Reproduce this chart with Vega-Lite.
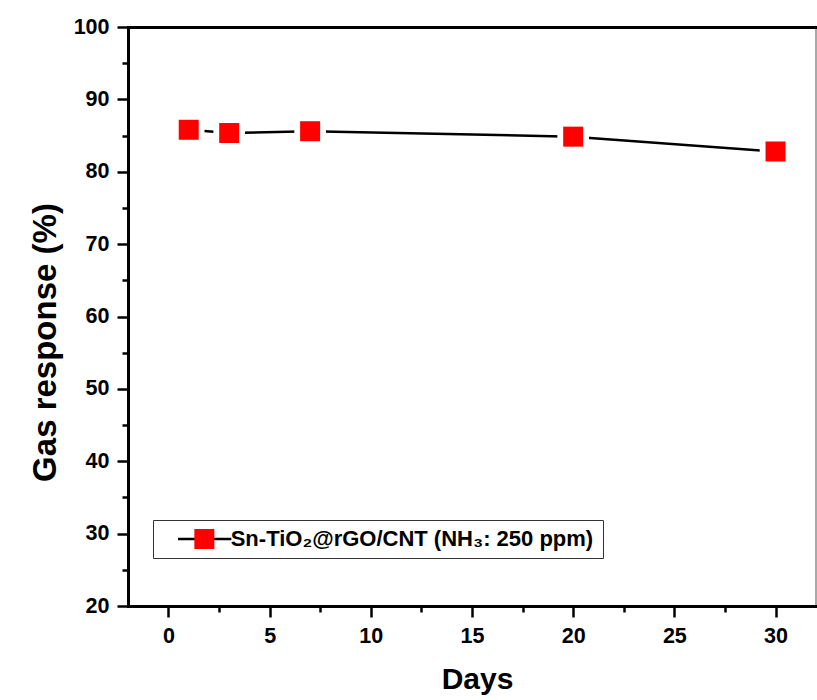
{
  "$schema": "https://vega.github.io/schema/vega-lite/v6.json",
  "width": 688,
  "height": 579,
  "autosize": {"type": "none"},
  "padding": {"left": 128, "top": 27, "right": 1, "bottom": 94},
  "background": "white",
  "config": {
    "font": "Liberation Sans",
    "view": {"stroke": "#8c8c8c", "strokeWidth": 1.5},
    "axis": {
      "labelFont": "Liberation Sans",
      "labelFontWeight": "bold",
      "labelFontSize": 21.5,
      "labelColor": "black",
      "titleFont": "Liberation Sans",
      "titleFontWeight": "bold",
      "titleColor": "black",
      "domainColor": "black",
      "domainWidth": 3,
      "domainCap": "square",
      "tickColor": "black",
      "tickWidth": 2.5,
      "grid": false,
      "labelFlush": false,
      "labelOverlap": false
    }
  },
  "data": {
    "values": [
      {"day": 1, "response": 85.8, "series": "Sn-TiO₂@rGO/CNT (NH₃: 250 ppm)", "sample": "Sn-TiO₂@rGO/CNT (NH₃: 250 ppm)"},
      {"day": 3, "response": 85.35, "series": "Sn-TiO₂@rGO/CNT (NH₃: 250 ppm)", "sample": "Sn-TiO₂@rGO/CNT (NH₃: 250 ppm)"},
      {"day": 7, "response": 85.6, "series": "Sn-TiO₂@rGO/CNT (NH₃: 250 ppm)", "sample": "Sn-TiO₂@rGO/CNT (NH₃: 250 ppm)"},
      {"day": 20, "response": 84.85, "series": "Sn-TiO₂@rGO/CNT (NH₃: 250 ppm)", "sample": "Sn-TiO₂@rGO/CNT (NH₃: 250 ppm)"},
      {"day": 30, "response": 82.8, "series": "Sn-TiO₂@rGO/CNT (NH₃: 250 ppm)", "sample": "Sn-TiO₂@rGO/CNT (NH₃: 250 ppm)"}
    ]
  },
  "layer": [
    {
      "mark": {"type": "line", "strokeWidth": 2.5},
      "encoding": {
        "x": {
          "field": "day", "type": "quantitative",
          "scale": {"domain": [-2, 32], "nice": false, "zero": false},
          "axis": {
            "orient": "bottom",
            "values": [0, 5, 10, 15, 20, 25, 30],
            "tickSize": 11,
            "labelPadding": 8,
            "title": "Days",
            "titleFontSize": 30,
            "titleX": 349,
            "titleY": 82,
            "titleBaseline": "alphabetic",
            "titleAlign": "center"
          }
        },
        "y": {
          "field": "response", "type": "quantitative",
          "scale": {"domain": [20, 100], "nice": false, "zero": false},
          "axis": {
            "orient": "left",
            "values": [20, 30, 40, 50, 60, 70, 80, 90, 100],
            "tickSize": 11,
            "labelPadding": 8,
            "title": "Gas response (%)",
            "titleFontSize": 33,
            "titleX": -73,
            "titleY": 315,
            "titleAngle": 270,
            "titleBaseline": "alphabetic",
            "titleAlign": "center"
          }
        },
        "stroke": {
          "field": "series", "type": "nominal",
          "scale": {"range": ["black"]},
          "legend": {
            "orient": "none",
            "legendX": 25,
            "legendY": 476,
            "title": null,
            "symbolType": "stroke",
            "symbolSize": 2841,
            "symbolStrokeWidth": 2.5,
            "symbolStrokeColor": "black",
            "symbolOffset": 15.7,
            "labelOffset": -2,
            "labelFont": "Liberation Sans",
            "labelFontSize": 22,
            "labelFontWeight": "bold",
            "labelColor": "black",
            "labelLimit": 1000,
            "padding": 8
          }
        }
      }
    },
    {
      "mark": {"type": "square", "size": 1000, "color": "white", "opacity": 1},
      "encoding": {
        "x": {
          "field": "day", "type": "quantitative",
          "scale": {"domain": [-2, 32], "nice": false, "zero": false},
          "axis": {
            "orient": "bottom",
            "values": [2.5, 7.5, 12.5, 17.5, 22.5, 27.5],
            "tickSize": 6,
            "labels": false,
            "domain": false,
            "title": null
          }
        },
        "y": {
          "field": "response", "type": "quantitative",
          "scale": {"domain": [20, 100], "nice": false, "zero": false},
          "axis": {
            "orient": "left",
            "values": [25, 35, 45, 55, 65, 75, 85, 95],
            "tickSize": 6,
            "labels": false,
            "domain": false,
            "title": null
          }
        }
      }
    },
    {
      "mark": {"type": "square", "size": 400, "opacity": 1},
      "encoding": {
        "x": {
          "field": "day", "type": "quantitative",
          "scale": {"domain": [-2, 32], "nice": false, "zero": false},
          "axis": {
            "orient": "top",
            "ticks": false,
            "labels": false,
            "title": null
          }
        },
        "y": {
          "field": "response", "type": "quantitative",
          "scale": {"domain": [20, 100], "nice": false, "zero": false},
          "axis": null
        },
        "fill": {
          "field": "sample", "type": "nominal",
          "scale": {"range": ["#ff0000"]},
          "legend": {
            "orient": "none",
            "legendX": 25,
            "legendY": 493,
            "title": null,
            "symbolType": "square",
            "symbolSize": 400,
            "symbolStrokeWidth": 0,
            "symbolOffset": 32.35,
            "labelOffset": 16.65,
            "labelFont": "Liberation Sans",
            "labelFontSize": 22,
            "labelFontWeight": "bold",
            "labelOpacity": 0,
            "labelLimit": 1000,
            "padding": 8,
            "strokeColor": "#333333"
          }
        }
      }
    }
  ],
  "resolve": {
    "axis": {"x": "independent", "y": "independent"},
    "legend": {"stroke": "independent", "fill": "independent"}
  }
}
